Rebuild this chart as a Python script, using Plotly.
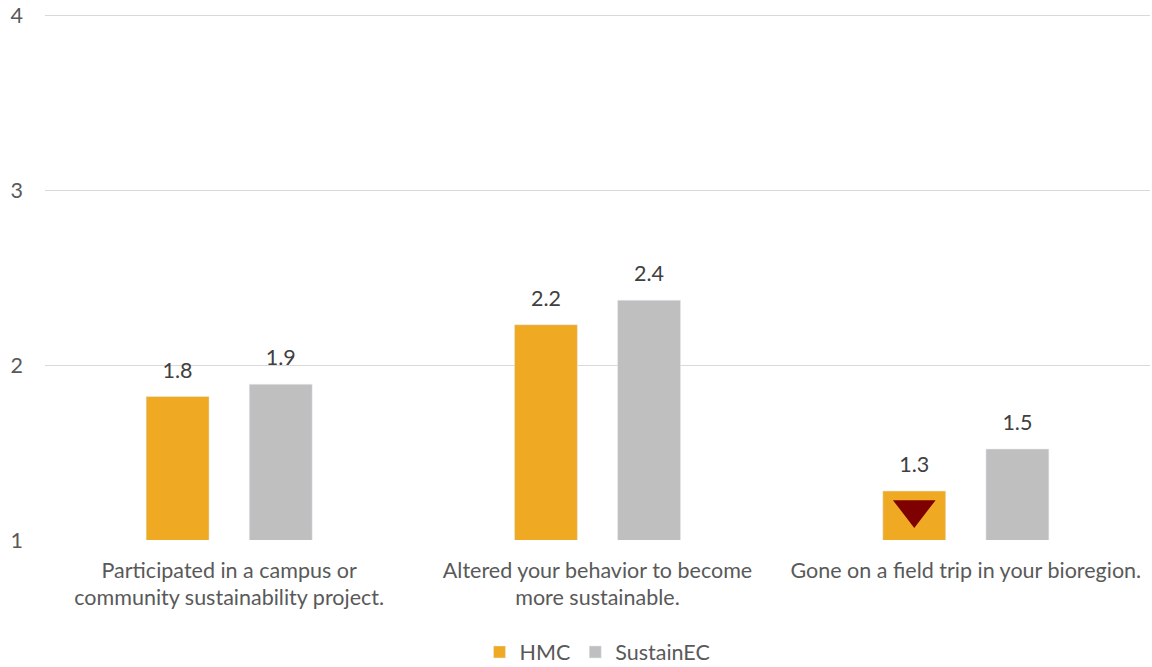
import plotly.graph_objects as go

categories = [
    "Participated in a campus or<br>community sustainability project.",
    "Altered your behavior to become<br>more sustainable.",
    "Gone on a field trip in your bioregion.",
]
hmc = [1.82, 2.23, 1.28]
sustainec = [1.89, 2.37, 1.52]
marker_cat = [categories[2]]
marker_val = [1.175]

FONT = "Lato"
FS = 21.5
fig = go.Figure()
fig.add_trace(go.Bar(name="HMC", x=categories, y=hmc, marker_color="#F0A922",
                     offsetgroup="HMC", hoverinfo="skip"))
fig.add_trace(go.Bar(name="SustainEC", x=categories, y=sustainec, marker_color="#BFBFBF",
                     offsetgroup="SEC", hoverinfo="skip"))
# value labels
for vals, grp in [(hmc, "HMC"), (sustainec, "SEC")]:
    fig.add_trace(go.Scatter(x=categories, y=vals, mode="markers+text",
                             text=[f"{v:.1f}" for v in vals], textposition="top center",
                             textfont=dict(size=FS, color="#404040", family=FONT),
                             marker=dict(size=20, color="rgba(0,0,0,0)"),
                             offsetgroup=grp, showlegend=False, hoverinfo="skip", cliponaxis=False))
fig.add_trace(go.Scatter(x=marker_cat, y=marker_val, mode="markers",
                         marker=dict(symbol="triangle-down", size=37, color="#7F0000"),
                         offsetgroup="HMC", showlegend=False, hoverinfo="skip"))

fig.update_layout(
    width=1152, height=667,
    paper_bgcolor="white", plot_bgcolor="white",
    barmode="group", bargap=0.44, bargroupgap=0.39,
    scattermode="group", scattergap=0.44,
    margin=dict(l=45, r=2, t=10, b=127, autoexpand=False),
    font=dict(family=FONT, color="#595959", size=FS),
    legend=dict(orientation="h", x=0.5, xanchor="center", y=-0.2113,
                yanchor="middle", font=dict(size=FS, color="#595959"),
                itemwidth=30, traceorder="normal"),
    xaxis=dict(showgrid=False, ticks="", ticklabelstandoff=15, automargin=False,
               tickfont=dict(size=FS, color="#595959")),
    yaxis=dict(range=[1, 4.0286], dtick=1, showgrid=True, gridcolor="#D9D9D9", gridwidth=1,
               zeroline=False, ticks="", ticklabelstandoff=21, automargin=False,
               tickfont=dict(size=FS, color="#595959"), showline=False),
)
fig.write_html("out.html", config={"displayModeBar": False},
               post_script="document.body.style.margin='0';")
